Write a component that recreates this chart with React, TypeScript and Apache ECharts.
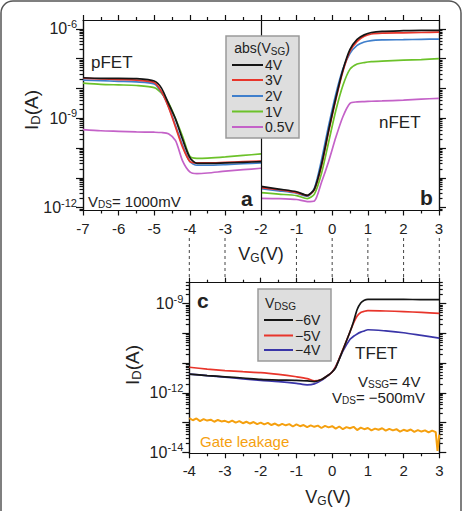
import React, { useEffect, useRef } from 'react';
import * as echarts from 'echarts';

const FONT = '"Liberation Sans", Arial, Helvetica, sans-serif';

// ---------- Panel a: pFET, log10(I_D) ----------
const pfetVg = [-7, -6.5, -6, -5.5, -5, -4.8, -4.6, -4.4, -4.2, -4.0, -3.8, -3.5, -3, -2.5, -2];
const pfet4V = [-7.64, -7.66, -7.66, -7.67, -7.75, -7.98, -8.5, -9.03, -9.72, -10.32, -10.52, -10.52, -10.5, -10.48, -10.46];
const pfet3V = [-7.65, -7.68, -7.7, -7.72, -7.8, -8.1, -8.62, -9.3, -9.98, -10.45, -10.5, -10.5, -10.48, -10.46, -10.44];
const pfet2V = [-7.72, -7.74, -7.76, -7.78, -7.85, -8.12, -8.6, -9.25, -9.92, -10.45, -10.58, -10.58, -10.56, -10.53, -10.5];
const pfet1V = [-7.82, -7.86, -7.88, -7.9, -7.97, -8.15, -8.48, -9.02, -9.62, -10.28, -10.35, -10.34, -10.3, -10.25, -10.2];
const pfet05V = [-9.38, -9.42, -9.44, -9.46, -9.47, -9.48, -9.52, -9.75, -10.44, -10.8, -10.86, -10.84, -10.78, -10.73, -10.68];

// ---------- Panel b: nFET ----------
const nfetVg = [-2, -1.5, -1, -0.7, -0.5, -0.3, -0.1, 0.1, 0.3, 0.5, 0.7, 0.9, 1.1, 1.4, 2, 2.5, 3];
const nfet4V = [-11.29, -11.38, -11.47, -11.59, -11.38, -10.55, -9.4, -8.33, -7.38, -6.69, -6.35, -6.2, -6.12, -6.08, -6.06, -6.05, -6.05];
const nfet3V = [-11.33, -11.4, -11.5, -11.6, -11.4, -10.6, -9.45, -8.38, -7.43, -6.75, -6.42, -6.25, -6.17, -6.14, -6.13, -6.12, -6.11];
const nfet2V = [-11.37, -11.44, -11.52, -11.62, -11.35, -10.4, -9.25, -8.2, -7.35, -6.82, -6.55, -6.44, -6.39, -6.37, -6.36, -6.35, -6.34];
const nfet1V = [-11.5, -11.55, -11.6, -11.7, -11.55, -10.85, -9.8, -8.75, -7.9, -7.35, -7.18, -7.13, -7.1, -7.08, -7.05, -7.03, -7.0];
const nfet05V = [-11.69, -11.7, -11.73, -11.8, -11.78, -11.15, -10.45, -9.65, -8.95, -8.5, -8.45, -8.44, -8.43, -8.42, -8.39, -8.36, -8.33];

// ---------- Panel c: TFET ----------
const tfetVg = [-4, -3.5, -3, -2.5, -2, -1.5, -1, -0.7, -0.5, -0.3, -0.1, 0, 0.1, 0.3, 0.5, 0.6, 0.7, 0.8, 0.9, 1.0, 1.5, 2, 2.5, 3];
const tfet6V = [-11.37, -11.42, -11.46, -11.5, -11.55, -11.57, -11.58, -11.6, -11.62, -11.55, -11.4, -11.3, -11.15, -10.56, -9.95, -9.6, -9.2, -8.98, -8.89, -8.86, -8.86, -8.86, -8.87, -8.87];
const tfet5V = [-11.14, -11.2, -11.25, -11.29, -11.32, -11.38, -11.46, -11.52, -11.6, -11.55, -11.4, -11.3, -11.12, -10.55, -9.95, -9.65, -9.42, -9.3, -9.26, -9.24, -9.25, -9.27, -9.3, -9.33];
const tfet4V = [-11.37, -11.42, -11.47, -11.53, -11.58, -11.62, -11.68, -11.73, -11.7, -11.58, -11.4, -11.3, -11.12, -10.6, -10.2, -10.1, -10.02, -9.96, -9.92, -9.88, -9.92, -9.98, -10.07, -10.16];

const leakVg = [
  -4.0, -3.9, -3.8, -3.7, -3.6, -3.5, -3.4, -3.3, -3.2, -3.1, -3.0, -2.9, -2.8, -2.7, -2.6, -2.5, -2.4, -2.3,
  -2.2, -2.1, -2.0, -1.9, -1.8, -1.7, -1.6, -1.5, -1.4, -1.3, -1.2, -1.1, -1.0, -0.9, -0.8, -0.7, -0.6, -0.5,
  -0.4, -0.3, -0.2, -0.1, 0.0, 0.1, 0.2, 0.3, 0.4, 0.5, 0.6, 0.7, 0.8, 0.9, 1.0, 1.1, 1.2, 1.3,
  1.4, 1.5, 1.6, 1.7, 1.8, 1.9, 2.0, 2.1, 2.2, 2.3, 2.4, 2.5, 2.6, 2.7, 2.8, 2.9, 2.95, 3.0,
];
const leakI = [
  -12.85, -12.92, -12.86, -12.95, -12.88, -12.93, -12.9, -12.97, -12.91, -12.96, -12.94, -12.99, -12.93, -13.0, -12.95, -13.02, -12.97, -13.03,
  -12.98, -13.05, -13.0, -13.06, -13.01, -13.08, -13.03, -13.1, -13.04, -13.09, -13.05, -13.13, -13.06, -13.12, -13.08, -13.15, -13.09, -13.14,
  -13.1, -13.18, -13.11, -13.16, -13.12, -13.2, -13.13, -13.22, -13.15, -13.19, -13.14, -13.25, -13.17, -13.22, -13.18, -13.26, -13.2, -13.24,
  -13.19, -13.27, -13.21, -13.26, -13.22, -13.3, -13.24, -13.28, -13.23, -13.31, -13.25, -13.3, -13.26, -13.33, -13.27, -13.32, -13.95, -13.4,
];

const abLabels = [-12, -9, -6];
const cLabels = [-14, -12, -9];
const connectorVg = [-4, -3, -1, 0, 1, 2, 3];

const colBlack = '#151515';
const colRed = '#e8352b';
const colBlue = '#3f7fcc';
const colGreen = '#6cc22a';
const colPurple = '#c462c8';
const colNavy = '#3a35a8';
const colOrange = '#f5a00f';

const zip = (xs: number[], ys: number[]) => xs.map((x, i) => [x, ys[i]]);

function decades(lo: number, hi: number) {
  const r: number[] = [];
  for (let n = Math.ceil(lo); n <= Math.floor(hi); n++) r.push(n);
  return r;
}
function minors(lo: number, hi: number) {
  const r: number[] = [];
  for (let n = Math.floor(lo); n <= Math.ceil(hi); n++) {
    for (let k = 2; k <= 9; k++) {
      const v = n + Math.log10(k);
      if (v > lo && v < hi) r.push(v);
    }
  }
  return r;
}

const axisColor = '#111';
const lineStyle = { color: axisColor, width: 1.2 };

function xAx(gridIndex: number, min: number, max: number, position: string, labels: boolean) {
  return {
    type: 'value', gridIndex, min, max, interval: 1, position,
    axisLine: { show: true, onZero: false, lineStyle },
    axisTick: { show: true, inside: false, length: 5, lineStyle },
    minorTick: { show: true, splitNumber: 2, length: 3, lineStyle },
    axisLabel: labels
      ? { show: true, fontFamily: FONT, fontSize: 15, color: '#222', margin: 10 }
      : { show: false },
    splitLine: { show: false },
    minorSplitLine: { show: false },
  };
}

const supRich = {
  b: { fontFamily: FONT, fontSize: 16, color: '#222' },
  s: { fontFamily: FONT, fontSize: 11, color: '#222', verticalAlign: 'top', padding: [0, 0, 10, 0] },
};

function yAx(gridIndex: number, min: number, max: number, position: string, major: boolean, labels?: number[]) {
  return {
    type: 'value', gridIndex, min, max, position,
    axisLine: { show: true, onZero: false, lineStyle },
    axisTick: major
      ? { show: true, inside: false, length: 7, customValues: decades(min, max), lineStyle }
      : { show: true, inside: false, length: 3.5, customValues: minors(min, max), lineStyle },
    axisLabel: labels
      ? {
          show: true, customValues: labels, margin: 6,
          formatter: (v: number) => `{b|10}{s|${Math.round(v)}}`,
          rich: supRich,
        }
      : { show: false },
    splitLine: { show: false },
  };
}

function line(name: string, xs: number[], ys: number[], color: string, xi: number, yi: number, extra: any = {}) {
  return {
    type: 'line', name, data: zip(xs, ys), xAxisIndex: xi, yAxisIndex: yi,
    showSymbol: false, symbol: 'none', smooth: 0.25,
    lineStyle: { color, width: 1.7 }, itemStyle: { color },
    ...extra,
  };
}

const subRich = (size: number, color = '#222') => ({
  m: { fontFamily: FONT, fontSize: size, fill: color },
  sub: { fontFamily: FONT, fontSize: Math.round(size * 0.68), fill: color, verticalAlign: 'bottom', padding: [Math.round(size * 0.45), 0, 0, 0] },
});

function txt(x: number, y: number, text: string, size: number, opts: any = {}) {
  return {
    type: 'text', x, y, z: 100, rotation: opts.rotation || 0,
    style: {
      text, fontFamily: FONT, fontSize: size, fill: opts.color || '#222',
      fontWeight: opts.bold ? 'bold' : 'normal',
      textAlign: opts.align || 'left', textVerticalAlign: 'middle',
      rich: opts.rich,
    },
  };
}

function legendLine(x1: number, x2: number, y: number, color: string) {
  return { type: 'line', z: 101, shape: { x1, y1: y, x2, y2: y }, style: { stroke: color, lineWidth: 2 } };
}

function baseGraphics() {
  const g: any[] = [];
  g.push({ type: 'rect', z: 90, shape: { x: 1, y: 1, width: 460, height: 540, r: 12 }, style: { fill: 'none', stroke: '#555', lineWidth: 1.5 } });
  g.push({ type: 'rect', z: 100, shape: { x: 226, y: 36, width: 73, height: 102 }, style: { fill: '#dedede', stroke: '#9a9a9a', lineWidth: 1.5 } });
  g.push(txt(262, 48, '{m|abs(V}{sub|SG}{m|)}', 14, { align: 'center', rich: subRich(14) }));
  const legA = [['4V', colBlack], ['3V', colRed], ['2V', colBlue], ['1V', colGreen], ['0.5V', colPurple]];
  const rowsA = [65, 80, 96, 111.5, 127];
  legA.forEach(([t, c], i) => {
    g.push(legendLine(232, 263, rowsA[i], c));
    g.push(txt(265, rowsA[i], t, 14));
  });
  g.push({ type: 'rect', z: 100, shape: { x: 258, y: 289, width: 73, height: 72 }, style: { fill: '#dedede', stroke: '#9a9a9a', lineWidth: 1.5 } });
  g.push(txt(265, 303, '{m|V}{sub|DSG}', 14, { rich: subRich(14) }));
  const legC = [['\u22126V', colBlack], ['\u22125V', colRed], ['\u22124V', colNavy]];
  const rowsC = [320, 335.5, 350];
  legC.forEach(([t, c], i) => {
    g.push(legendLine(264, 293, rowsC[i], c));
    g.push(txt(295, rowsC[i], t, 14));
  });
  g.push(txt(91, 62, 'pFET', 17));
  g.push(txt(379, 122, 'nFET', 17));
  g.push(txt(88, 201, '{m|V}{sub|DS}{m|= 1000mV}', 15, { rich: subRich(15) }));
  g.push(txt(241, 198, 'a', 21, { bold: true }));
  g.push(txt(420, 197, 'b', 21, { bold: true }));
  g.push(txt(197, 300, 'c', 21, { bold: true }));
  g.push(txt(355, 353, 'TFET', 17));
  g.push(txt(358, 381, '{m|V}{sub|SSG}{m|= 4V}', 15, { rich: subRich(15) }));
  g.push(txt(332, 397, '{m|V}{sub|DS}{m|= \u2212500mV}', 15, { rich: subRich(15) }));
  g.push(txt(200, 441, 'Gate leakage', 15, { color: colOrange }));
  g.push(txt(31, 110, '{m|I}{sub|D}{m|(A)}', 19, { align: 'center', rotation: Math.PI / 2, rich: subRich(19) }));
  g.push(txt(132, 365, '{m|I}{sub|D}{m|(A)}', 19, { align: 'center', rotation: Math.PI / 2, rich: subRich(19) }));
  g.push(txt(261, 254, '{m|V}{sub|G}{m|(V)}', 18, { align: 'center', rich: subRich(18) }));
  g.push(txt(328, 497, '{m|V}{sub|G}{m|(V)}', 18, { align: 'center', rich: subRich(18) }));
  return g;
}

export default function App() {
  const ref = useRef<HTMLDivElement>(null);
  useEffect(() => {
    if (!ref.current) return;
    const chart = echarts.init(ref.current, undefined, { renderer: 'svg' });
    const abMin = -12.1, abMax = -5.7;
    const cMin = -14.03, cMax = -8.3;
    const option: any = {
      animation: false,
      backgroundColor: '#ffffff',
      textStyle: { fontFamily: FONT },
      grid: [
        { left: 83, top: 20, width: 356, height: 190.5, containLabel: false },
        { left: 189.3, top: 282.7, width: 250, height: 170.6, containLabel: false },
      ],
      xAxis: [
        xAx(0, -7, 3, 'bottom', true),
        xAx(0, -7, 3, 'top', false),
        xAx(1, -4, 3, 'bottom', true),
        xAx(1, -4, 3, 'top', false),
      ],
      yAxis: [
        yAx(0, abMin, abMax, 'left', true, abLabels),
        yAx(0, abMin, abMax, 'left', false),
        yAx(0, abMin, abMax, 'right', true),
        yAx(0, abMin, abMax, 'right', false),
        yAx(1, cMin, cMax, 'left', true, cLabels),
        yAx(1, cMin, cMax, 'left', false),
        yAx(1, cMin, cMax, 'right', true),
        yAx(1, cMin, cMax, 'right', false),
      ],
      series: [
        line('pFET 0.5V', pfetVg, pfet05V, colPurple, 0, 0),
        line('pFET 1V', pfetVg, pfet1V, colGreen, 0, 0),
        line('pFET 2V', pfetVg, pfet2V, colBlue, 0, 0),
        line('pFET 3V', pfetVg, pfet3V, colRed, 0, 0),
        line('pFET 4V', pfetVg, pfet4V, colBlack, 0, 0, {
          markLine: {
            silent: true, symbol: 'none', label: { show: false },
            lineStyle: { color: axisColor, type: 'solid', width: 1.2 },
            data: [{ xAxis: -2 }],
          },
        }),
        line('nFET 0.5V', nfetVg, nfet05V, colPurple, 0, 0),
        line('nFET 1V', nfetVg, nfet1V, colGreen, 0, 0),
        line('nFET 2V', nfetVg, nfet2V, colBlue, 0, 0),
        line('nFET 3V', nfetVg, nfet3V, colRed, 0, 0),
        line('nFET 4V', nfetVg, nfet4V, colBlack, 0, 0),
        line('Gate leakage', leakVg, leakI, colOrange, 2, 4, { smooth: false, lineStyle: { color: colOrange, width: 2 } }),
        line('TFET -4V', tfetVg, tfet4V, colNavy, 2, 4),
        line('TFET -5V', tfetVg, tfet5V, colRed, 2, 4),
        line('TFET -6V', tfetVg, tfet6V, colBlack, 2, 4),
      ],
      graphic: baseGraphics(),
    };
    chart.setOption(option);
    const g = baseGraphics();
    connectorVg.forEach((v) => {
      const px = chart.convertToPixel({ xAxisIndex: 2 } as any, v) as number;
      g.push({ type: 'line', z: 50, shape: { x1: px, y1: 238, x2: px, y2: 279 }, style: { stroke: '#444', lineWidth: 1, lineDash: [3, 3] } });
    });
    chart.setOption({ graphic: g });
    return () => chart.dispose();
  }, []);
  return <div ref={ref} style={{ position: 'absolute', left: 0, top: 0, width: 463, height: 511 }} />;
}
